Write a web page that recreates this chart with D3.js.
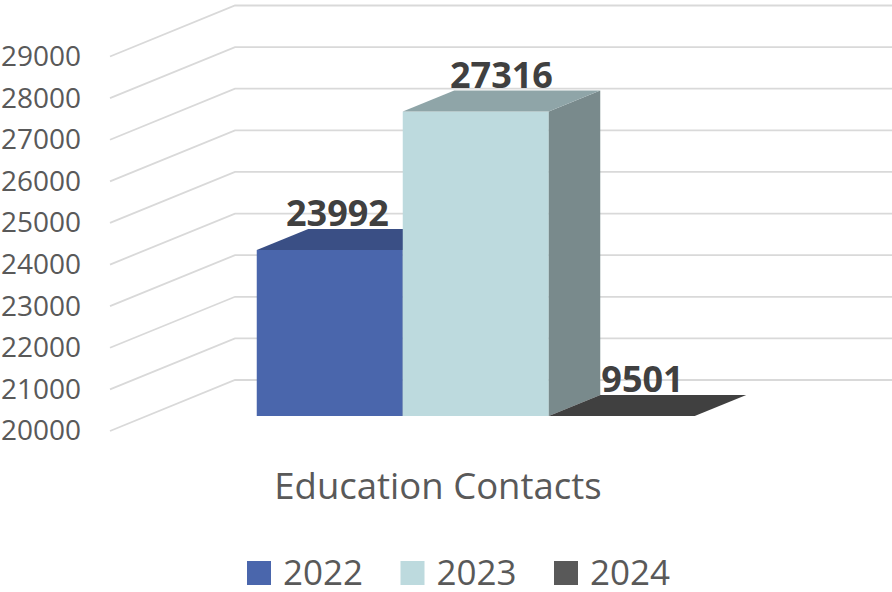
<!DOCTYPE html>
<html>
<head>
<meta charset="utf-8">
<script src="https://cdn.jsdelivr.net/npm/d3@7"></script>
<style>
  body { margin: 0; background: #fff; }
  svg { display: block; }
  text { font-family: "Open Sans", sans-serif; }
</style>
</head>
<body>
<svg width="892" height="592"></svg>
<script>
// data
var years = ["2022", "2023", "2024"];
var values = [23992, 27316, 9501];
var tickValues = [20000, 21000, 22000, 23000, 24000, 25000, 26000, 27000, 28000, 29000];
var category = "Education Contacts";

// palette (front / top / side)
var frontColors = ["#4A66AC", "#BDDADE", "#595959"];
var topColors = ["#3A4F85", "#8FA5A8", "#404040"];
var sideColors = ["#33477A", "#798A8C", "#3A3A3A"];

var svg = d3.select("svg");

// oblique projection: t = depth (0 front edge of floor, 1 back wall)
var DX = 125, DY = -51;
var y = d3.scaleLinear().domain([20000, 29000]).range([431, 56.5]);
var x = d3.scaleBand().domain(years).range([220, 658]).paddingInner(0);
var t0 = 0.294, t1 = 0.706;

function P(px, v, t) { return [px + t * DX, y(v) + t * DY]; }
function poly(pts) { return "M" + pts.map(function(p){ return p.join(","); }).join("L") + "Z"; }

// gridlines: side wall + back wall
svg.append("g").selectAll("path")
  .data(tickValues)
  .enter().append("path")
  .attr("fill", "none")
  .attr("stroke", "#D9D9D9")
  .attr("stroke-width", 1.8)
  .attr("d", function(v){
    var a = P(110, v, 0), b = P(110, v, 1);
    return "M" + a + "L" + b + "L892," + b[1];
  });

// y axis labels
var axis = d3.axisLeft(y).tickValues(tickValues).tickSize(0).tickPadding(0).tickFormat(d3.format("d"));
var gAxis = svg.append("g").attr("transform", "translate(81,0)").call(axis);
gAxis.select(".domain").remove();
gAxis.selectAll("text")
  .attr("fill", "#595959")
  .style("font-size", "28px")
  .style("font-family", "'Open Sans', sans-serif");

// 3D bars
var bars = svg.append("g");
years.forEach(function(yr, i){
  var v = Math.max(values[i], y.domain()[0]);
  var xl = x(yr), xr = xl + x.bandwidth();
  var base = y.domain()[0];
  // front
  bars.append("path")
    .attr("d", poly([P(xl, base, t0), P(xr, base, t0), P(xr, v, t0), P(xl, v, t0)]))
    .attr("fill", frontColors[i]);
  // side
  bars.append("path")
    .attr("d", poly([P(xr, base, t0), P(xr, base, t1), P(xr, v, t1), P(xr, v, t0)]))
    .attr("fill", sideColors[i]);
  // top
  bars.append("path")
    .attr("d", poly([P(xl, v, t0), P(xr, v, t0), P(xr, v, t1), P(xl, v, t1)]))
    .attr("fill", topColors[i]);
});

// value labels
var labelShift = [-18, 0, -5];
svg.append("g").selectAll("text")
  .data(years)
  .enter().append("text")
  .attr("x", function(d, i){ return x(d) + x.bandwidth() / 2 + (t0 + t1) / 2 * DX + labelShift[i]; })
  .attr("y", function(d, i){ return P(0, Math.max(values[i], 20000), t1)[1] - 3; })
  .attr("text-anchor", "middle")
  .attr("fill", "#404040")
  .style("font-size", "36px")
  .style("font-weight", "700")
  .text(function(d, i){ return values[i]; });

// category title
svg.append("text")
  .attr("x", 438).attr("y", 499)
  .attr("text-anchor", "middle")
  .attr("fill", "#595959")
  .style("font-size", "36.5px")
  .text(category);

// legend
var legend = svg.append("g").selectAll("g")
  .data(years)
  .enter().append("g")
  .attr("transform", function(d, i){ return "translate(" + (247 + i * 153.5) + ",561)"; });
legend.append("rect")
  .attr("width", 24).attr("height", 24)
  .attr("fill", function(d, i){ return frontColors[i]; });
legend.append("text")
  .attr("x", 36).attr("y", 24)
  .attr("fill", "#595959")
  .style("font-size", "35px")
  .text(function(d){ return d; });
</script>
</body>
</html>
